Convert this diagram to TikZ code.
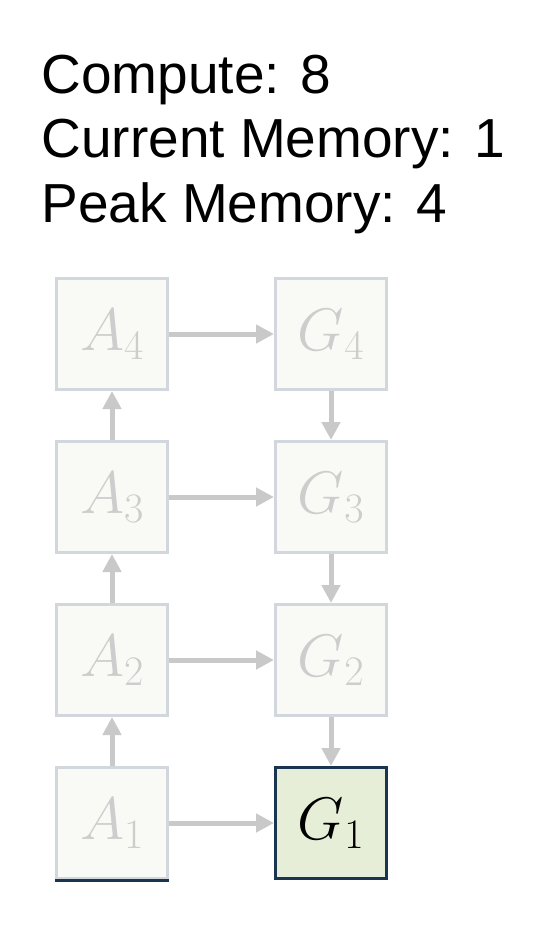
\RequirePackage{fix-cm}
\documentclass[tikz,border=0pt]{standalone}
\usepackage{fontspec}
\setmainfont{Liberation Sans}
\usepackage{tikz}
\usetikzlibrary{arrows.meta}

\definecolor{cellfill}{HTML}{F9FAF6}
\definecolor{cellline}{HTML}{D2D7DD}
\definecolor{cellgrey}{HTML}{CDCDCD}
\definecolor{linkgrey}{HTML}{C9C9C9}
\definecolor{donefill}{HTML}{E6EED7}
\definecolor{navy}{HTML}{1B3550}

\begin{document}
\begin{tikzpicture}
            [x=1pt, y=-1pt, line width=3pt,
             cell/.style={draw=cellline, fill=cellfill, minimum size=111pt, inner sep=0pt,
                          text=cellgrey, font=\fontsize{60}{60}\selectfont},
             done/.style={draw=navy, fill=donefill, text=black},
             link/.style={draw=linkgrey, line width=5pt, -{Triangle[length=18pt,width=18pt]}},
             stat/.style={anchor=base west, inner sep=0pt, font=\fontsize{55}{55}\selectfont}]
            \useasboundingbox (0,0) rectangle (540,926);
            \node [stat] (compute) at (40,93) {Compute: 8};
            \node [stat] (current) at (40,157) {Current Memory: 1};
            \node [stat] (peak) at (40,222) {Peak Memory: 4};
            \node [cell] (A4) at (112,334) {$A_4$};
            \node [cell] (A3) at (112,497) {$A_3$};
            \node [cell] (A2) at (112,660) {$A_2$};
            \node [cell] (A1) at (112,823) {$A_1$};
            \node [cell] (G4) at (331,334) {$G_4$};
            \node [cell] (G3) at (331,497) {$G_3$};
            \node [cell] (G2) at (331,660) {$G_2$};
            \node [cell, done] (G1) at (331,823) {$G_1$};
            \draw [link] (A1) -- (A2);
            \draw [link] (A2) -- (A3);
            \draw [link] (A3) -- (A4);
            \draw [link] (A4) -- (G4);
            \draw [link] (A3) -- (G3);
            \draw [link] (A2) -- (G2);
            \draw [link] (A1) -- (G1);
            \draw [link] (G4) -- (G3);
            \draw [link] (G3) -- (G2);
            \draw [link] (G2) -- (G1);
            \draw [navy] (A1.south west) -- (A1.south east);
        \end{tikzpicture}
\end{document}
